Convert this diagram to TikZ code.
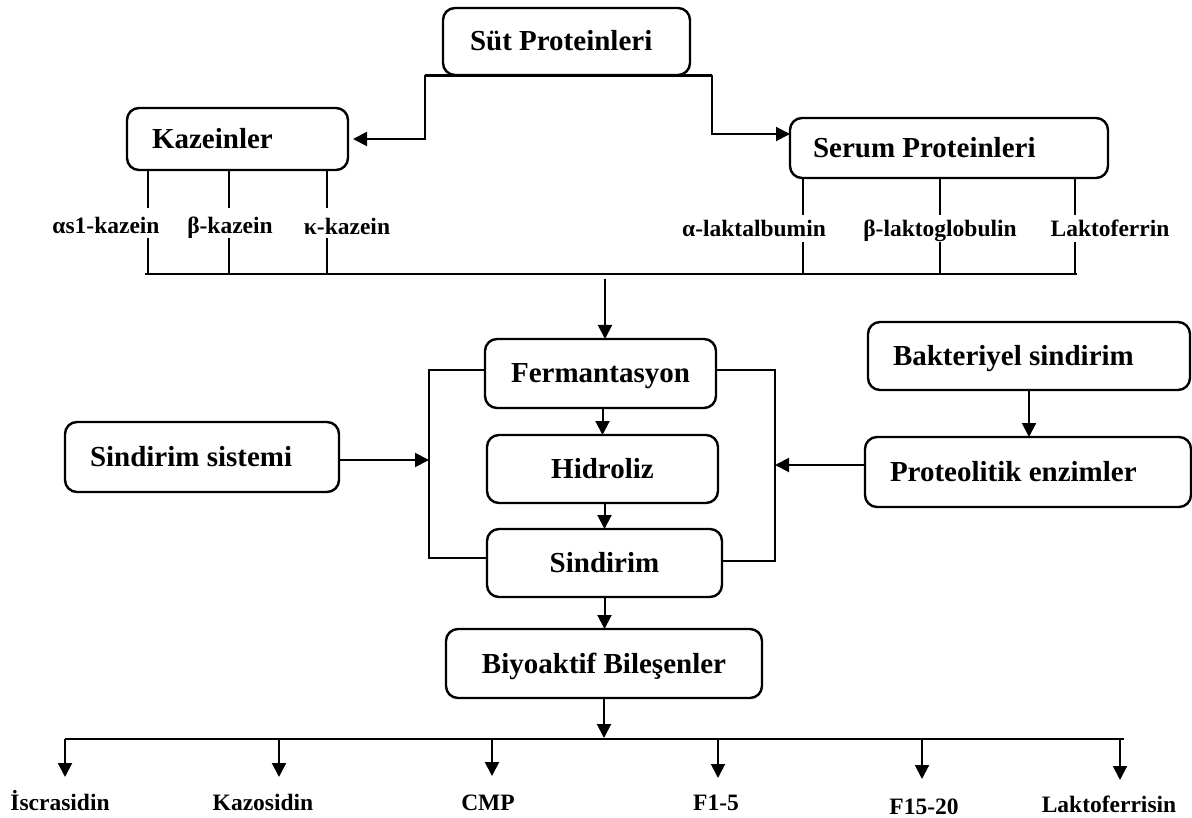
\documentclass[tikz,border=0pt]{standalone}
\usepackage{fontspec}
\setmainfont{Liberation Serif}
\usetikzlibrary{arrows.meta,calc}
\begin{document}
\begin{tikzpicture}[x=1pt,y=-1pt,
  box/.style={draw, line width=2.4pt, rounded corners=12pt,
    font=\fontsize{29}{32}\selectfont\bfseries, text height=19pt, text depth=0pt,
    anchor=north west, inner ysep=0pt, outer sep=0pt},
  lbl/.style={font=\fontsize{23.5}{26}\selectfont\bfseries, anchor=base, inner sep=0pt},
  ln/.style={line width=1.5pt},
  hl/.style={line width=2.4pt},
  arr/.style={line width=2pt, -{Triangle[length=14pt,width=14pt]}},
]
\useasboundingbox (0,0) rectangle (1192,818);

% boxes
\node[box, text width=193pt, inner xsep=27pt, minimum height=67pt, align=flush left] (sut) at (443,8) {Süt Proteinleri};
\node[box, text width=171pt, inner xsep=25pt, minimum height=62pt, align=flush left] (kaz) at (127,108) {Kazeinler};
\node[box, text width=272pt, inner xsep=23pt, minimum height=60pt, align=flush left] (serum) at (790,118) {Serum Proteinleri};
\node[box, minimum width=231pt, minimum height=69pt, align=center] (ferm) at (485,339) {Fermantasyon};
\node[box, minimum width=231pt, minimum height=68pt, align=center] (hid) at (487,435) {Hidroliz};
\node[box, minimum width=235pt, minimum height=68pt, align=center] (sind) at (487,529) {Sindirim};
\node[box, minimum width=316pt, minimum height=69pt, align=center] (biyo) at (446,629) {Biyoaktif Bileşenler};
\node[box, text width=224pt, inner xsep=25pt, minimum height=70pt, align=flush left] (sindsis) at (65,422) {Sindirim sistemi};
\node[box, text width=272pt, inner xsep=25pt, minimum height=68pt, align=flush left] (bakt) at (868,322) {Bakteriyel sindirim};
\node[box, text width=276pt, inner xsep=25pt, minimum height=70pt, align=flush left] (prot) at (865,437) {Proteolitik enzimler};

% top split
\coordinate (sl) at (425,75.5);
\coordinate (sr) at (712,75.5);
\draw[hl] (sl) -- (sr);
\draw[arr] (sl) |- ([xshift=5pt]kaz.east);
\draw[arr] (sr) |- ([yshift=14pt]serum.west);

% protein labels
\node[lbl] (a1) at (106,234) {αs1-kazein};
\node[lbl] (a2) at (230,234) {β-kazein};
\node[lbl] (a3) at (347,235) {κ-kazein};
\node[lbl] (s1l) at (754,237) {α-laktalbumin};
\node[lbl] (s2l) at (940,237) {β-laktoglobulin};
\node[lbl] (s3l) at (1110,237) {Laktoferrin};

% branch lines
\coordinate (k1) at (148,274);
\coordinate (k2) at (229,274);
\coordinate (k3) at (327,274);
\coordinate (q1) at (803,274);
\coordinate (q2) at (940,274);
\coordinate (q3) at (1075,274);
\foreach \c in {k1,k2,k3} {
  \draw[ln] (kaz.south -| \c) -- ++(0,38);
  \draw[ln] (\c) -- ++(0,-36);
}
\foreach \c in {q1,q2,q3} {
  \draw[ln] (serum.south -| \c) -- ++(0,37);
  \draw[ln] (\c) -- ++(0,-32);
}
\coordinate (hL) at (145,274);
\coordinate (hR) at (1077,274);
\draw[hl] (hL) -- (hR);

% middle column
\coordinate (m0) at (605,279);
\draw[arr] (m0) -- (m0 |- ferm.north);
\draw[arr] (hid.north |- ferm.south) -- (hid.north);
\draw[arr] (sind.north |- hid.south) -- (sind.north);
\draw[arr] (sind.south) -- (sind.south |- biyo.north);

% brackets
\coordinate (lbt) at (429,370);
\coordinate (lbb) at (429,558);
\coordinate (rbt) at (775,370);
\coordinate (rbb) at (775,561);
\draw[ln] (ferm.west |- lbt) -- (lbt) -- (lbb) -- (sind.west |- lbb);
\draw[ln] (ferm.east |- rbt) -- (rbt) -- (rbb) -- (sind.east |- rbb);

% side inputs
\draw[arr] ([yshift=-3pt]sindsis.east) coordinate (t1) -- (t1 -| lbt);
\draw[arr] ([yshift=7pt]prot.west) coordinate (t2) -- (t2 -| rbt);
\draw[arr] (bakt.south) -- (bakt.south |- prot.north);

% bottom distribution
\coordinate (bh) at (604,739);
\draw[arr] (biyo.south) -- ([yshift=1pt]bh);
\coordinate (bL) at (65,739);
\coordinate (bR) at (1124,739);
\draw[hl] (bL) -- (bR);
\coordinate (b1) at (65,739);
\coordinate (b2) at (279,739);
\coordinate (b3) at (492,739);
\coordinate (b4) at (718,739);
\coordinate (b5) at (922,739);
\coordinate (b6) at (1120,739);
\draw[arr] (b1) -- ++(0,38);
\draw[arr] (b2) -- ++(0,38);
\draw[arr] (b3) -- ++(0,37);
\draw[arr] (b4) -- ++(0,39);
\draw[arr] (b5) -- ++(0,40);
\draw[arr] (b6) -- ++(0,41);

\node[lbl] (e1) at (60,810) {İscrasidin};
\node[lbl] (e2) at (263,810) {Kazosidin};
\node[lbl] (e3) at (488,810) {CMP};
\node[lbl] (e4) at (716,810) {F1-5};
\node[lbl] (e5) at (924,814) {F15-20};
\node[lbl] (e6) at (1109,812) {Laktoferrisin};
\end{tikzpicture}
\end{document}
